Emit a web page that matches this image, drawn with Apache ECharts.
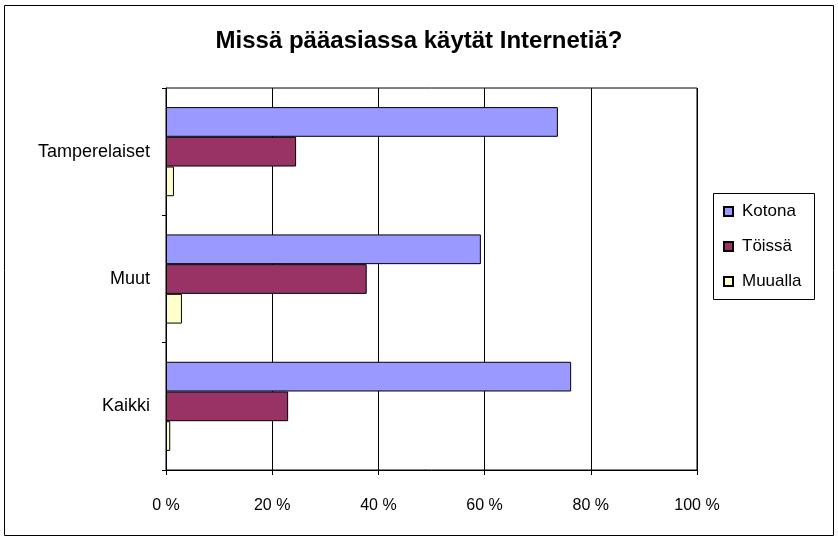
<!DOCTYPE html>
<html><head><meta charset="utf-8">
<script src="https://cdn.jsdelivr.net/npm/echarts@6/dist/echarts.min.js"></script>
<style>html,body{margin:0;padding:0;background:#fff}#c{width:838px;height:540px}</style>
</head><body><div id="c"></div>
<script>
const categories = ['Tamperelaiset', 'Muut', 'Kaikki'];
const seriesNames = ['Kotona', 'Töissä', 'Muualla'];
const kotona = [73.8, 59.3, 76.3];
const toissa = [24.5, 37.8, 23.0];
const muualla = [1.5, 3.0, 0.8];
const xTicks = [0, 20, 40, 60, 80, 100];
const colors = ['#9999FF', '#993366', '#FFFFCC'];
const values = [kotona, toissa, muualla];

const chart = echarts.init(document.getElementById('c'));
const font = 'Liberation Sans, Arial, sans-serif';
chart.setOption({
  animation: false,
  backgroundColor: '#fff',
  title: {
    text: 'Missä pääasiassa käytät Internetiä?',
    left: 'center', top: 24,
    textStyle: { fontFamily: font, fontSize: 24, fontWeight: 'bold', color: '#000' }
  },
  graphic: [{
    type: 'rect', shape: { x: 4.5, y: 5.5, width: 829, height: 530 },
    style: { fill: 'none', stroke: '#000', lineWidth: 1 }, silent: true
  }, {
    type: 'rect', shape: { x: 713.5, y: 193.5, width: 101, height: 106 },
    style: { fill: 'none', stroke: '#000', lineWidth: 1 }, silent: true
  }],
  legend: {
    orient: 'vertical', left: 718, top: 198, itemGap: 18,
    itemWidth: 9, itemHeight: 9, icon: 'rect',
    data: seriesNames,
    textStyle: { fontFamily: font, fontSize: 17, color: '#000', padding: [0, 0, 0, 4] }
  },
  grid: { left: 166, right: 141, top: 88, bottom: 70, show: true, borderColor: '#000', borderWidth: 1 },
  xAxis: {
    type: 'value', min: 0, max: 100, interval: 20,
    axisLine: { show: true, lineStyle: { color: '#000' } },
    axisTick: { show: true, length: 5, lineStyle: { color: '#000' } },
    splitLine: { show: true, lineStyle: { color: '#000', width: 1 } },
    axisLabel: { margin: 28, fontFamily: font, fontSize: 16, color: '#000', formatter: v => xTicks.includes(v) ? v + ' %' : '' }
  },
  yAxis: {
    type: 'category', data: categories, inverse: true,
    axisLine: { show: true, lineStyle: { color: '#000' } },
    axisTick: { show: true, length: 4, lineStyle: { color: '#000' } },
    axisLabel: { margin: 16, fontFamily: font, fontSize: 18, color: '#000' }
  },
  series: seriesNames.map((n, i) => ({
    name: n, type: 'bar', data: values[i],
    barGap: '0%', barCategoryGap: '30%',
    itemStyle: { color: colors[i], borderColor: '#000', borderWidth: 1 }
  }))
});
</script></body></html>
